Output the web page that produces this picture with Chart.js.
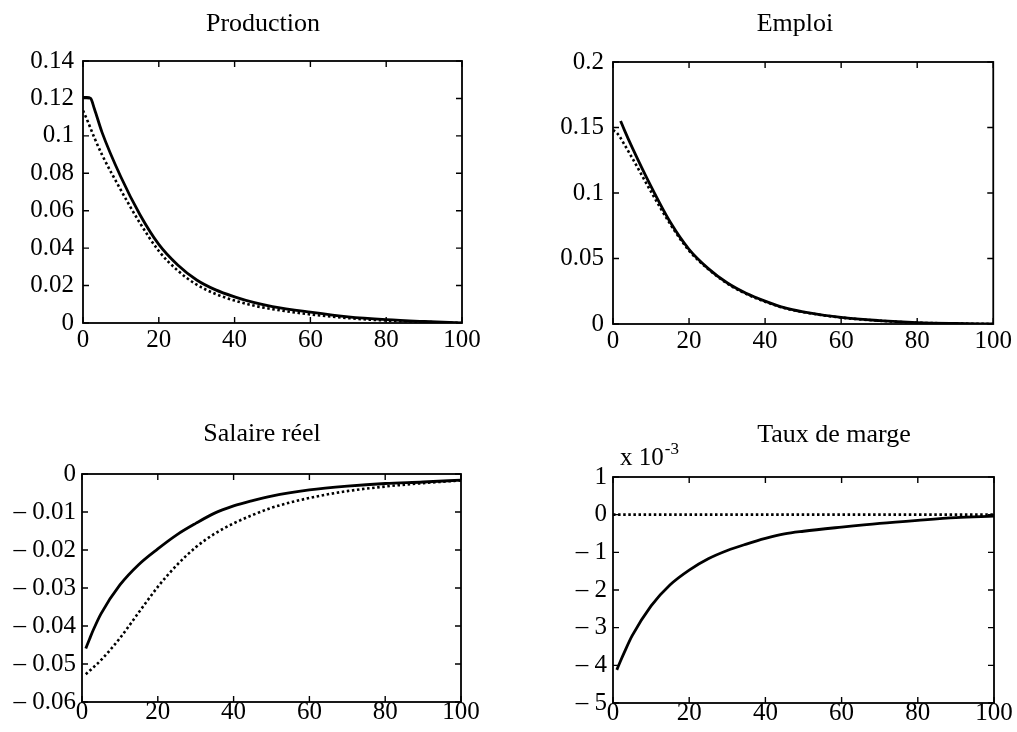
<!DOCTYPE html>
<html>
<head>
<meta charset="utf-8">
<script src="https://cdn.jsdelivr.net/npm/chart.js@4.4.1/dist/chart.umd.min.js"></script>
<style>
  body { margin: 0; background: #fff; }
  canvas { position: absolute; left: 0; top: 0; }
</style>
</head>
<body>
<canvas id="prod" width="1017" height="732"></canvas>
<canvas id="emploi" width="1017" height="732"></canvas>
<canvas id="salaire" width="1017" height="732"></canvas>
<canvas id="marge" width="1017" height="732"></canvas>
<script>
// horizon (periods) where values were read
const steps = [0, 1, 2, 3, 5, 10, 15, 20, 25, 30, 35, 40, 45, 50, 60, 70, 80, 90, 100];

// Production
const prodSolid  = [0.1205, 0.1205, 0.120, 0.1145, 0.102, 0.078, 0.058, 0.042, 0.031, 0.023, 0.0177, 0.014, 0.011, 0.0088, 0.0058, 0.0033, 0.0018, 0.0008, 0.0];
const prodDotted = [0.1135, 0.109, 0.104, 0.099, 0.090, 0.071, 0.0535, 0.0385, 0.028, 0.0205, 0.0155, 0.012, 0.0093, 0.0074, 0.0046, 0.0026, 0.0013, 0.0006, 0.0];

// Emploi
const emploiSolid  = [null, null, 0.155, 0.148, 0.135, 0.105, 0.078, 0.057, 0.0425, 0.0315, 0.0235, 0.0175, 0.0125, 0.0093, 0.0050, 0.0026, 0.0011, 0.0004, 0.0];
const emploiDotted = [0.148, 0.146, 0.142, 0.137, 0.127, 0.101, 0.0765, 0.056, 0.042, 0.031, 0.023, 0.017, 0.0122, 0.0091, 0.0049, 0.0025, 0.0010, 0.0004, 0.0];

// Salaire reel
const salSolid  = [null, -0.0459, -0.0434, -0.0410, -0.0368, -0.0292, -0.0238, -0.0197, -0.0160, -0.0130, -0.0103, -0.0084, -0.0070, -0.0058, -0.0042, -0.0032, -0.0025, -0.0021, -0.0016];
const salDotted = [null, -0.0527, -0.0518, -0.0509, -0.0490, -0.0432, -0.0364, -0.0297, -0.0240, -0.0193, -0.0157, -0.0130, -0.0108, -0.0089, -0.0063, -0.0045, -0.0033, -0.0024, -0.0017];

// Taux de marge
const margeSolid  = [null, -0.00412, -0.00388, -0.00365, -0.00322, -0.00242, -0.00186, -0.00147, -0.00117, -0.00095, -0.00078, -0.00063, -0.00051, -0.00044, -0.00033, -0.00023, -0.00015, -0.00008, -0.00004];
const margeDotted = [0, 0, 0, 0, 0, 0, 0, 0, 0, 0, 0, 0, 0, 0, 0, 0, 0, 0, 0];

// tick values
const xTicks = [0, 20, 40, 60, 80, 100];
const prodTicks = [0, 0.02, 0.04, 0.06, 0.08, 0.1, 0.12, 0.14];
const emploiTicks = [0, 0.05, 0.1, 0.15, 0.2];
const salTicks = [-0.06, -0.05, -0.04, -0.03, -0.02, -0.01, 0];
const margeTicks = [-0.005, -0.004, -0.003, -0.002, -0.001, 0, 0.001];

const FONT = 'Liberation Serif, Times New Roman, serif';

function fmtNum(v) {
  const s = String(Number(Math.abs(v).toFixed(6)));
  return v < -1e-12 ? '\u2013 ' + s : s;
}
function fmtMilli(v) {
  const n = Math.round(v * 1000);
  return n < 0 ? '\u2013 ' + Math.abs(n) : String(n);
}

// box + inward tick marks + title
const framePlugin = {
  id: 'frame',
  afterDraw(chart, args, o) {
    const ctx = chart.ctx, a = chart.chartArea;
    const xs = chart.scales.x, ys = chart.scales.y;
    const len = 6;
    ctx.save();
    ctx.strokeStyle = '#000';
    ctx.lineWidth = 1.8;
    ctx.strokeRect(a.left, a.top, a.right - a.left, a.bottom - a.top);
    ctx.lineWidth = 1.4;
    ctx.beginPath();
    xs.ticks.forEach(t => {
      const px = xs.getPixelForValue(t.value);
      ctx.moveTo(px, a.bottom); ctx.lineTo(px, a.bottom - len);
      ctx.moveTo(px, a.top); ctx.lineTo(px, a.top + len);
    });
    ys.ticks.forEach(t => {
      const py = ys.getPixelForValue(t.value);
      ctx.moveTo(a.left, py); ctx.lineTo(a.left + len, py);
      ctx.moveTo(a.right, py); ctx.lineTo(a.right - len, py);
    });
    ctx.stroke();
    ctx.fillStyle = '#000';
    ctx.textAlign = 'center';
    ctx.textBaseline = 'alphabetic';
    ctx.font = '26px ' + FONT;
    ctx.fillText(o.title, o.titleX, o.titleY);
    if (o.exponent) {
      ctx.textAlign = 'left';
      ctx.font = '25px ' + FONT;
      ctx.fillText('x 10', o.exponent.x, o.exponent.y);
      const w = ctx.measureText('x 10').width;
      ctx.font = '17px ' + FONT;
      ctx.fillText('-3', o.exponent.x + w + 1, o.exponent.y - 11);
    }
    ctx.restore();
  }
};

function panel(id, p) {
  const yW = 85, xH = 40;
  const ds = (data, dotted) => ({
    data: steps.map((s, i) => ({ x: s, y: data[i] })),
    borderColor: '#000',
    borderWidth: dotted ? 2.6 : 2.8,
    borderDash: dotted ? [2.5, 2.6] : [],
    pointRadius: 0,
    fill: false,
    cubicInterpolationMode: 'monotone'
  });
  new Chart(document.getElementById(id), {
    type: 'line',
    data: { datasets: [ds(p.solid, false), ds(p.dotted, true)] },
    plugins: [framePlugin],
    options: {
      responsive: false,
      animation: false,
      devicePixelRatio: 1,
      layout: {
        padding: { left: p.l - yW, top: p.t, right: 1017 - p.r, bottom: 732 - p.b - xH }
      },
      plugins: {
        legend: { display: false },
        tooltip: { enabled: false },
        frame: { title: p.title, titleX: p.titleX, titleY: p.titleY, exponent: p.exponent }
      },
      scales: {
        x: {
          type: 'linear', min: 0, max: 100,
          afterFit: s => { s.height = xH; },
          afterBuildTicks: s => { s.ticks = xTicks.map(v => ({ value: v })); },
          grid: { display: false, drawTicks: false },
          border: { display: false },
          ticks: { color: '#000', font: { family: FONT, size: 25, lineHeight: 1 }, padding: p.xPad, maxRotation: 0, autoSkip: false }
        },
        y: {
          type: 'linear', min: p.yTicks[0], max: p.yTicks[p.yTicks.length - 1],
          afterFit: s => { s.width = yW; },
          afterBuildTicks: s => { s.ticks = p.yTicks.map(v => ({ value: v })); },
          grid: { display: false, drawTicks: false },
          border: { display: false },
          ticks: { color: '#000', font: { family: FONT, size: 25 }, padding: p.yPad, autoSkip: false, callback: p.fmt }
        }
      }
    }
  });
}

panel('prod', {
  l: 83, t: 61, r: 462, b: 323, solid: prodSolid, dotted: prodDotted,
  yTicks: prodTicks, fmt: fmtNum, yPad: 9, xPad: 5,
  title: 'Production', titleX: 263, titleY: 31
});
panel('emploi', {
  l: 613, t: 62, r: 995, b: 324, solid: emploiSolid, dotted: emploiDotted,
  yTicks: emploiTicks, fmt: fmtNum, yPad: 9, xPad: 5,
  title: 'Emploi', titleX: 795, titleY: 31
});
panel('salaire', {
  l: 82, t: 474, r: 461, b: 702, solid: salSolid, dotted: salDotted,
  yTicks: salTicks, fmt: fmtNum, yPad: 6, xPad: -2,
  title: 'Salaire réel', titleX: 262, titleY: 441
});
panel('marge', {
  l: 613, t: 477, r: 994, b: 703, solid: margeSolid, dotted: margeDotted,
  yTicks: margeTicks, fmt: fmtMilli, yPad: 6, xPad: -2,
  title: 'Taux de marge', titleX: 834, titleY: 442, exponent: { x: 620, y: 465 }
});
</script>
</body>
</html>
